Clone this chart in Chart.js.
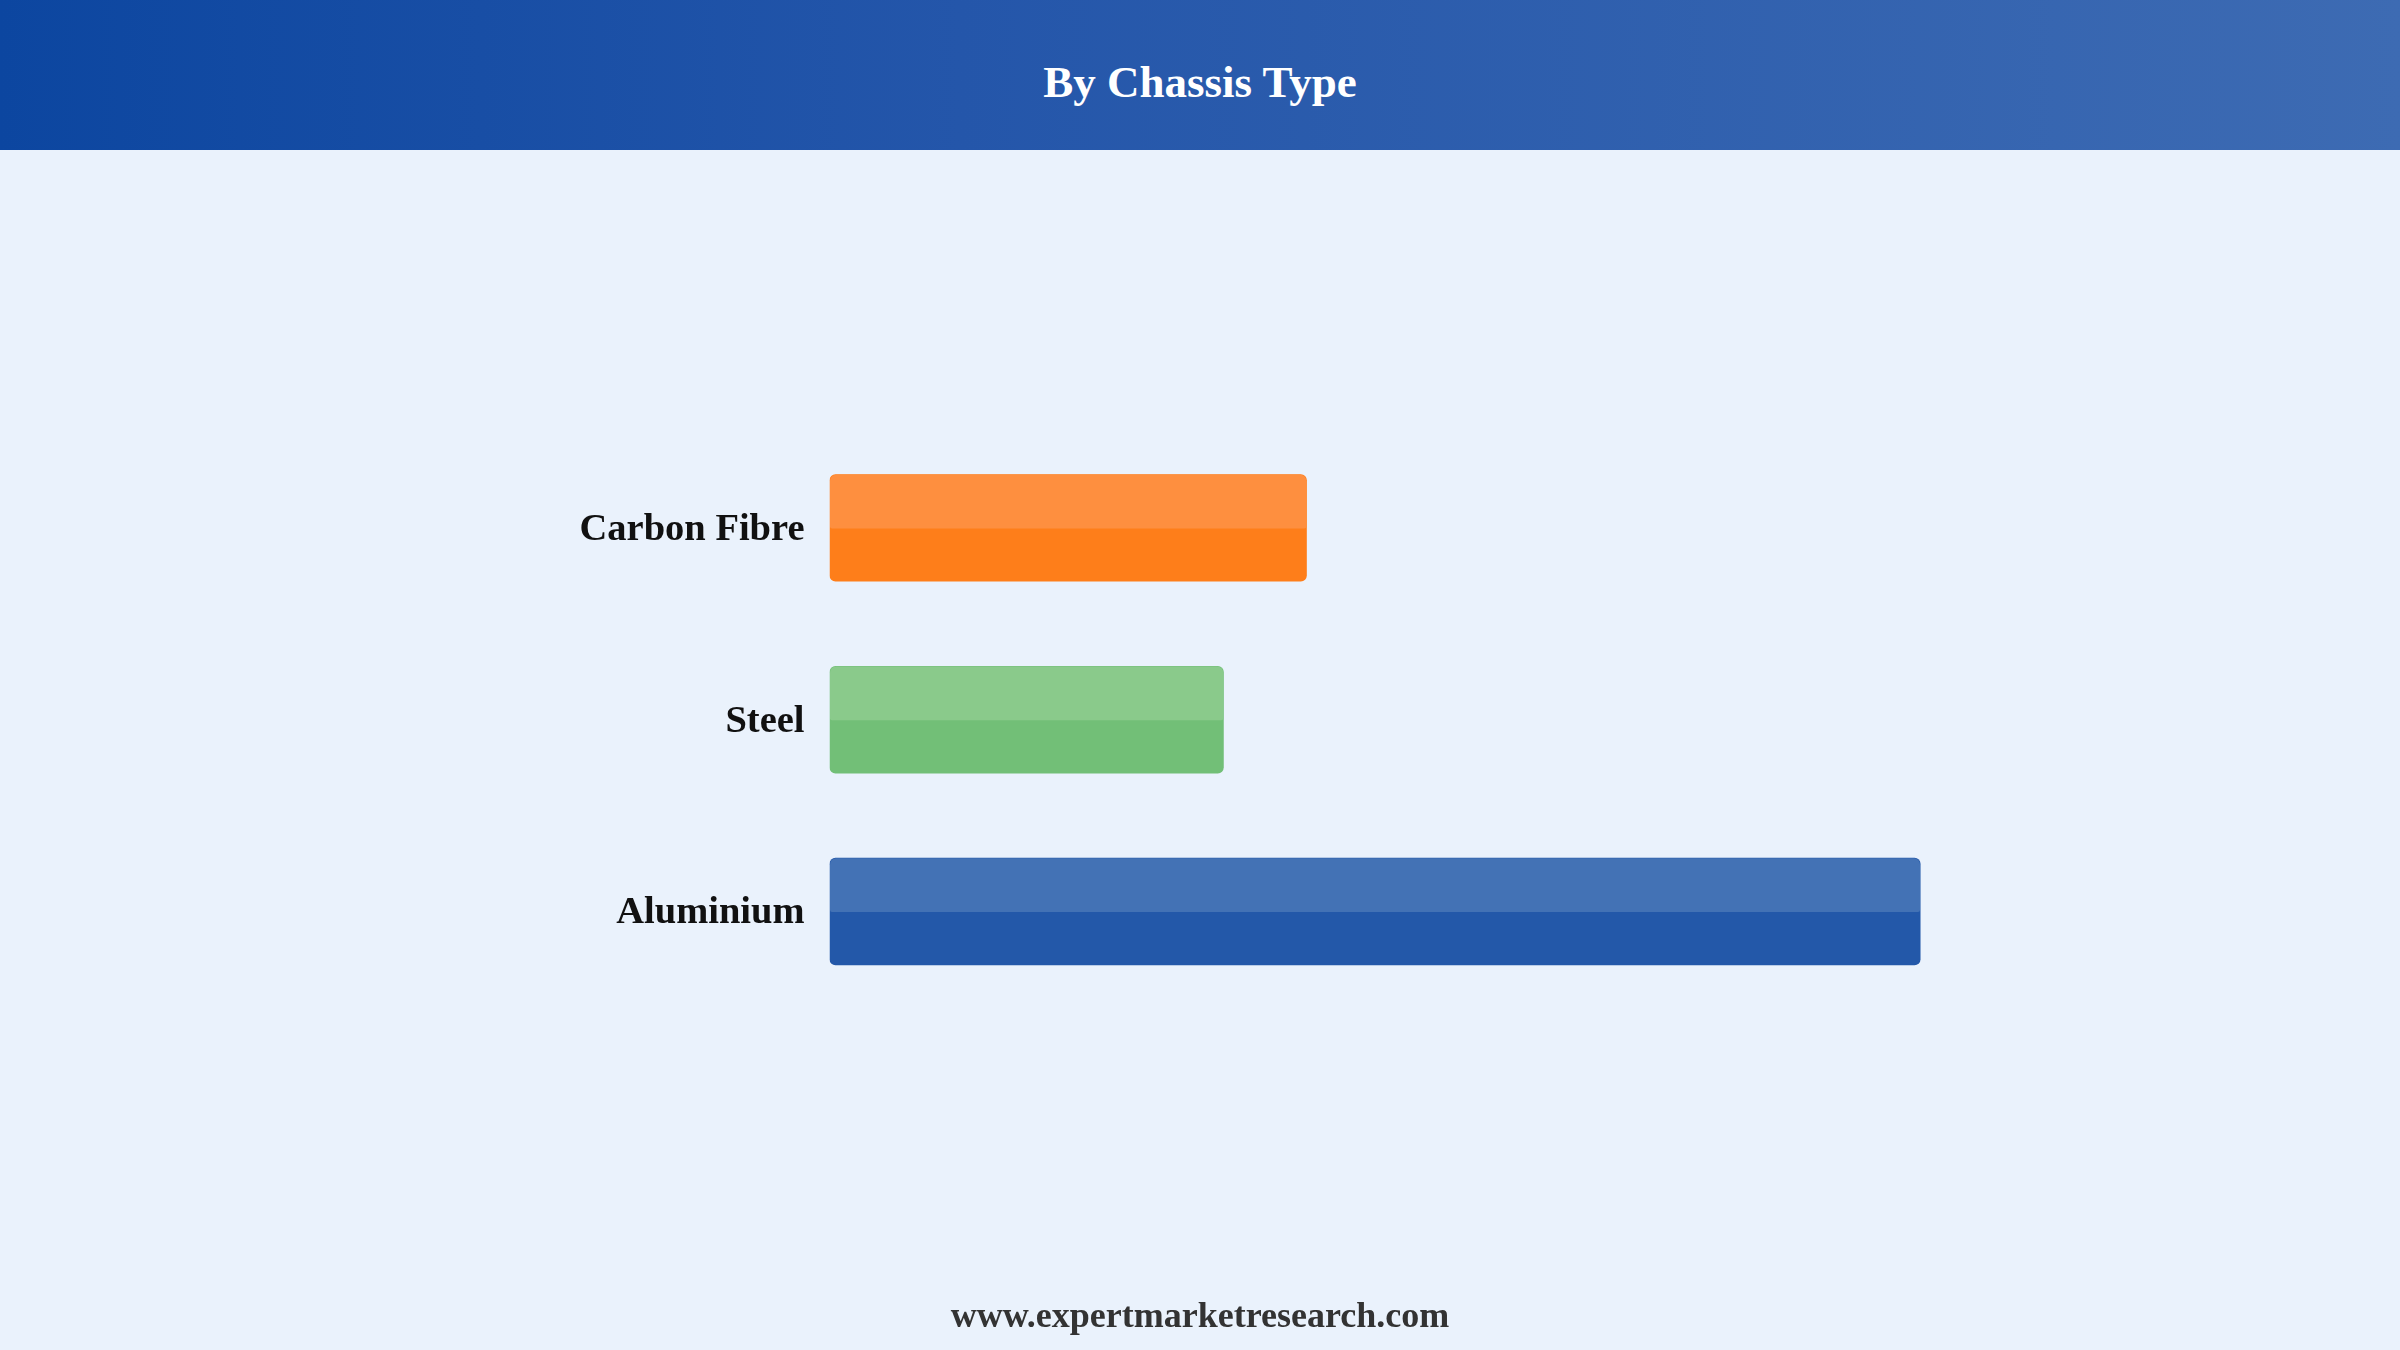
<!DOCTYPE html>
<html>
<head>
<meta charset="utf-8">
<script src="https://cdn.jsdelivr.net/npm/chart.js@4"></script>
<style>
  html, body { margin: 0; padding: 0; }
  body { width: 2400px; height: 1350px; position: relative; overflow: hidden; background: #eaf2fc; font-family: "Liberation Serif", "Times New Roman", serif; }
  #header { position: absolute; left: 0; top: 0; width: 2400px; height: 150px;
    background: linear-gradient(to right, #0c46a0 0%, #2456aa 40%, #3d6bb3 100%); }
  #title { position: absolute; left: 0; top: 59.5px; width: 2400px; text-align: center; color: #fff;
    font-weight: bold; font-size: 45px; line-height: 45px; }
  #chartWrap { position: absolute; left: 0; top: 150px; width: 2400px; height: 1200px; }
  #footer { position: absolute; left: 0; top: 1296.5px; width: 2400px; text-align: center; color: #333;
    font-weight: bold; font-size: 36px; line-height: 36px; }
</style>
</head>
<body>
<div id="header"><div id="title">By Chassis Type</div></div>
<div id="chartWrap"><canvas id="c" width="2400" height="1200"></canvas></div>
<div id="footer">www.expertmarketresearch.com</div>
<script>
const categories = ["Carbon Fibre", "Steel", "Aluminium"];
const values = [38.5, 31.8, 88.0];
const barColors = ["#fe7e1a", "#72bf77", "#2358a9"];
const highlightColors = ["#fe8f3f", "#8aca8b", "#4372b5"];
const axisMax = 100;

const topHighlight = {
  id: 'topHighlight',
  afterDatasetDraw(chart, args) {
    const ctx = chart.ctx;
    const meta = args.meta;
    meta.data.forEach((el, i) => {
      const p = el.getProps(['x', 'y', 'base', 'height'], true);
      const left = Math.min(p.x, p.base);
      const w = Math.abs(p.x - p.base);
      const top = p.y - p.height / 2;
      const h = p.height / 2;
      ctx.save();
      ctx.fillStyle = highlightColors[i];
      ctx.beginPath();
      ctx.roundRect(left + 0.5, top + 0.5, w - 1, h, [6, 6, 2, 2]);
      ctx.fill();
      ctx.restore();
    });
  }
};

new Chart(document.getElementById('c'), {
  type: 'bar',
  data: {
    labels: categories,
    datasets: [{
      data: values,
      backgroundColor: barColors,
      borderRadius: 6,
      borderSkipped: false,
      borderWidth: 0,
      categoryPercentage: 1.0,
      barPercentage: 0.56
    }]
  },
  options: {
    indexAxis: 'y',
    responsive: false,
    animation: false,
    devicePixelRatio: 1,
    layout: { padding: { top: 282, bottom: 342.6, left: 0, right: 330.7 } },
    plugins: { legend: { display: false }, tooltip: { enabled: false }, title: { display: false } },
    scales: {
      x: { display: false, min: 0, max: axisMax },
      y: {
        grid: { display: false, drawTicks: false },
        border: { display: false },
        ticks: { color: '#111', padding: 25, labelOffset: 2, font: { family: '"Liberation Serif", "Times New Roman", serif', weight: 'bold', size: 38.5 } },
        afterFit(axis) { axis.width = 829.5; }
      }
    }
  },
  plugins: [topHighlight]
});
</script>
</body>
</html>
